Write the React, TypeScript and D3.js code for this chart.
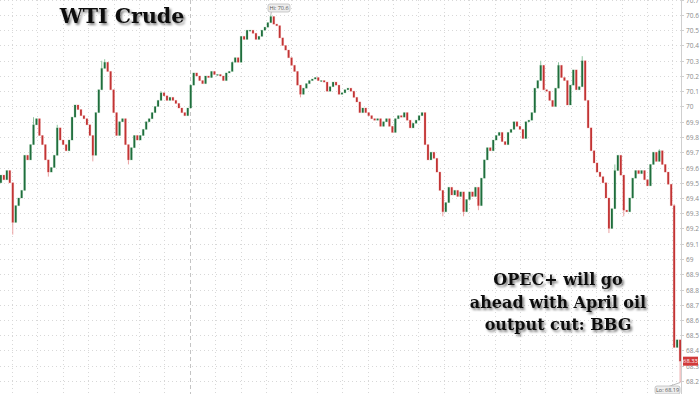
import React, { useEffect, useRef } from 'react';
import * as d3 from 'd3';

// closing prices, one per bar (open = previous close)
const closes = [
  69.55, 69.52, 69.58, 69.50, 69.24, 69.35, 69.40, 69.45, 69.68, 69.65,
  69.75, 69.88, 69.92, 69.81, 69.75, 69.65, 69.57, 69.60, 69.68, 69.86,
  69.78, 69.75, 69.71, 69.78, 69.93, 70.01, 69.98, 69.94, 69.92, 69.88,
  69.81, 69.68, 69.96, 70.11, 70.25, 70.29, 70.23, 70.11, 69.96, 69.81,
  69.90, 69.92, 69.75, 69.65, 69.73, 69.81, 69.78, 69.81, 69.85, 69.90,
  69.92, 69.96, 70.00, 70.04, 70.09, 70.07, 70.04, 70.06, 70.04, 70.02,
  69.99, 69.96, 69.94, 69.99, 70.14, 70.22, 70.20, 70.17, 70.15, 70.20,
  70.19, 70.23, 70.21, 70.21, 70.20, 70.17, 70.22, 70.23, 70.29, 70.32,
  70.29, 70.46, 70.44, 70.50, 70.50, 70.48, 70.44, 70.46, 70.50, 70.52,
  70.55, 70.59, 70.54, 70.53, 70.45, 70.40, 70.37, 70.32, 70.27, 70.23,
  70.14, 70.08, 70.12, 70.15, 70.17, 70.18, 70.19, 70.17, 70.17, 70.16,
  70.10, 70.13, 70.16, 70.14, 70.08, 70.09, 70.11, 70.12, 70.10, 70.06,
  70.03, 69.96, 69.99, 69.96, 69.94, 69.92, 69.91, 69.92, 69.87, 69.90,
  69.92, 69.87, 69.83, 69.92, 69.94, 69.93, 69.96, 69.91, 69.86, 69.89,
  69.91, 69.94, 69.96, 69.75, 69.65, 69.70, 69.66, 69.57, 69.45, 69.31,
  69.37, 69.47, 69.42, 69.45, 69.41, 69.44, 69.31, 69.39, 69.44, 69.41,
  69.47, 69.35, 69.53, 69.65, 69.73, 69.71, 69.78, 69.81, 69.83, 69.77,
  69.75, 69.83, 69.85, 69.90, 69.87, 69.85, 69.79, 69.90, 69.91, 69.96,
  70.12, 70.17, 70.27, 70.11, 70.10, 70.04, 70.00, 70.12, 70.27, 70.19,
  70.17, 70.01, 70.14, 70.24, 70.11, 70.13, 70.30, 70.04, 69.86, 69.71,
  69.63, 69.57, 69.54, 69.50, 69.40, 69.20, 69.33, 69.58, 69.68, 69.55,
  69.32, 69.31, 69.40, 69.53, 69.58, 69.56, 69.58, 69.52, 69.48, 69.62,
  69.70, 69.64, 69.71, 69.62, 69.57, 69.49, 69.35, 68.42, 68.47, 68.33,
];
const firstOpen = 69.5;

// bars whose wicks reach beyond the body: [bar index, price]
const wickHighs: [number, number][] = [
  [11, 69.93], [19, 69.88], [34, 70.30], [35, 70.31], [54, 70.10], [91, 70.6],
  [182, 70.30], [188, 70.29], [196, 70.33], [207, 69.62], [222, 69.72], [227, 69.36],
];
const wickLows: [number, number][] = [
  [4, 69.16], [16, 69.54], [31, 69.64], [43, 69.62], [101, 70.06], [149, 69.28],
  [156, 69.28], [161, 69.32], [205, 69.17], [210, 69.28], [229, 68.19],
];

const yTicks = [
  68.2, 68.3, 68.4, 68.5, 68.6, 68.7, 68.8, 68.9, 69, 69.1, 69.2, 69.3, 69.4,
  69.5, 69.6, 69.7, 69.8, 69.9, 70, 70.1, 70.2, 70.3, 70.4, 70.5, 70.6, 70.7,
];

const title = 'WTI Crude';
const note = ['OPEC+ will go', 'ahead with April oil', 'output cut: BBG'];
const hiText = 'Hi: 70.6';
const loText = 'Lo: 68.19';
const lastText = '68.33';

const W = 700;
const H = 394;
const plotRight = 681;

const App = () => {
  const ref = useRef<SVGSVGElement>(null);

  useEffect(() => {
    const svg = d3.select(ref.current);
    svg.selectAll('*').remove();

    const n = closes.length;
    const opens = closes.map((c, i) => (i === 0 ? firstOpen : closes[i - 1]));
    const hiMap = new Map(wickHighs);
    const loMap = new Map(wickLows);

    const x = d3.scaleBand<number>().domain(d3.range(n)).range([0, plotRight]).paddingInner(0.4);
    const y = d3.scaleLinear().domain([68.2, 70.6]).range([381, 15]);
    const bw = x.bandwidth();

    const defs = svg.append('defs');
    const f = defs.append('filter').attr('id', 'shadow')
      .attr('x', '-10%').attr('y', '-30%').attr('width', '130%').attr('height', '170%');
    f.append('feDropShadow').attr('dx', 1.8).attr('dy', 2).attr('stdDeviation', 1.3)
      .attr('flood-color', '#000').attr('flood-opacity', 0.5);

    svg.append('rect').attr('width', W).attr('height', H).attr('fill', '#fff');

    // grid
    const grid = svg.append('g');
    grid.selectAll('line.h')
      .data(yTicks)
      .enter()
      .append('line')
      .attr('x1', 0).attr('x2', plotRight)
      .attr('y1', (d) => Math.round(y(d)) + 0.5).attr('y2', (d) => Math.round(y(d)) + 0.5)
      .attr('stroke', '#d8d8d8').attr('stroke-dasharray', '1,3');

    const vx = d3.range(12, plotRight, 25.4).filter((v) => Math.abs(v - 190) > 2);
    grid.selectAll('line.v')
      .data(vx)
      .enter()
      .append('line')
      .attr('x1', (d) => Math.round(d) + 0.5).attr('x2', (d) => Math.round(d) + 0.5)
      .attr('y1', 0).attr('y2', H)
      .attr('stroke', '#d8d8d8').attr('stroke-dasharray', '1,3');

    grid.append('line')
      .attr('x1', 190.5).attr('x2', 190.5).attr('y1', 0).attr('y2', H)
      .attr('stroke', '#c4c4c4').attr('stroke-dasharray', '4,3');

    // axis
    const axis = svg.append('g');
    axis.append('line').attr('x1', plotRight + 0.5).attr('x2', plotRight + 0.5)
      .attr('y1', 0).attr('y2', H).attr('stroke', '#cfcfcf');
    const fmt = d3.format('~g');
    const tk = axis.selectAll('g.t').data(yTicks).enter().append('g')
      .attr('transform', (d) => `translate(0,${Math.round(y(d)) + 0.5})`);
    tk.append('line').attr('x1', plotRight).attr('x2', plotRight + 3).attr('stroke', '#cfcfcf');
    tk.append('text')
      .attr('x', plotRight + 5)
      .attr('dy', '0.32em')
      .attr('font-family', '"Open Sans", sans-serif')
      .attr('font-size', 6.5)
      .attr('fill', '#8a8a8a')
      .text((d) => fmt(d));

    // candles
    const data = closes.map((c, i) => {
      const o = opens[i];
      return {
        i, o, c,
        h: hiMap.get(i) ?? Math.max(o, c),
        l: loMap.get(i) ?? Math.min(o, c),
      };
    });
    const cg = svg.append('g');
    const cand = cg.selectAll('g').data(data).enter().append('g');
    cand.append('line')
      .attr('x1', (d) => x(d.i)! + bw / 2).attr('x2', (d) => x(d.i)! + bw / 2)
      .attr('y1', (d) => y(d.h)).attr('y2', (d) => y(d.l))
      .attr('stroke', (d) => (d.c >= d.o ? '#8fc4a0' : '#eba3a3'))
      .attr('stroke-width', 1);
    cand.append('rect')
      .attr('x', (d) => x(d.i)! - 0.5)
      .attr('width', bw + 1)
      .attr('y', (d) => y(Math.max(d.o, d.c)) - 0.5)
      .attr('height', (d) => Math.max(1.2, Math.abs(y(d.o) - y(d.c)) + 1))
      .attr('fill', (d) => (d.c >= d.o ? '#b4d8be' : '#f4bcbc'))
      .attr('opacity', 0.6);
    cand.append('rect')
      .attr('x', (d) => x(d.i)!)
      .attr('width', bw)
      .attr('y', (d) => y(Math.max(d.o, d.c)))
      .attr('height', (d) => Math.max(1, Math.abs(y(d.o) - y(d.c))))
      .attr('fill', (d) => (d.c >= d.o ? '#1f6e3d' : '#c23434'));

    // hi / lo badges
    const badge = (cx: number, cy: number, bx: number, by: number, txt: string, w: number) => {
      const g = svg.append('g');
      g.append('line').attr('x1', cx).attr('y1', cy).attr('x2', bx + 4).attr('y2', by + 4)
        .attr('stroke', '#aaa').attr('stroke-width', 0.8);
      g.append('rect').attr('x', bx).attr('y', by).attr('width', w).attr('height', 8).attr('rx', 2)
        .attr('fill', '#eeeeee').attr('stroke', '#b5b5b5').attr('stroke-width', 0.7);
      g.append('text').attr('x', bx + w / 2).attr('y', by + 4).attr('dy', '0.34em')
        .attr('text-anchor', 'middle').attr('font-family', '"Open Sans", sans-serif')
        .attr('font-size', 5.5).attr('fill', '#555').text(txt);
    };
    const hiIdx = 91;
    badge(x(hiIdx)! + bw / 2, y(70.6), 268, 4, hiText, 22);
    badge(x(n - 1)! + bw / 2, y(68.19), 655, 386, loText, 25);

    // last price tag
    const lp = svg.append('g').attr('transform', `translate(${plotRight + 2},${y(closes[n - 1])})`);
    lp.append('rect').attr('x', 0).attr('y', -4.5).attr('width', 15).attr('height', 9).attr('fill', '#d13a3a');
    lp.append('text').attr('x', 7.5).attr('dy', '0.34em').attr('text-anchor', 'middle')
      .attr('font-family', '"Open Sans", sans-serif').attr('font-size', 5.8).attr('fill', '#fff').text(lastText);

    // title + note
    svg.append('text')
      .attr('x', 122).attr('y', 23)
      .attr('text-anchor', 'middle')
      .attr('font-family', '"DejaVu Serif", serif')
      .attr('font-weight', 'bold')
      .attr('font-size', 20.5)
      .attr('fill', '#111')
      .attr('filter', 'url(#shadow)')
      .text(title);

    const nt = svg.append('text')
      .attr('text-anchor', 'middle')
      .attr('font-family', '"DejaVu Serif", serif')
      .attr('font-weight', 'bold')
      .attr('font-size', 16)
      .attr('fill', '#111')
      .attr('filter', 'url(#shadow)');
    note.forEach((line, k) => {
      nt.append('tspan').attr('x', 558).attr('y', 285 + k * 22.5).text(line);
    });
  }, []);

  return (
    <svg
      ref={ref}
      width={W}
      height={H}
      style={{ position: 'absolute', left: 0, top: 0, display: 'block' }}
    />
  );
};

export default App;
